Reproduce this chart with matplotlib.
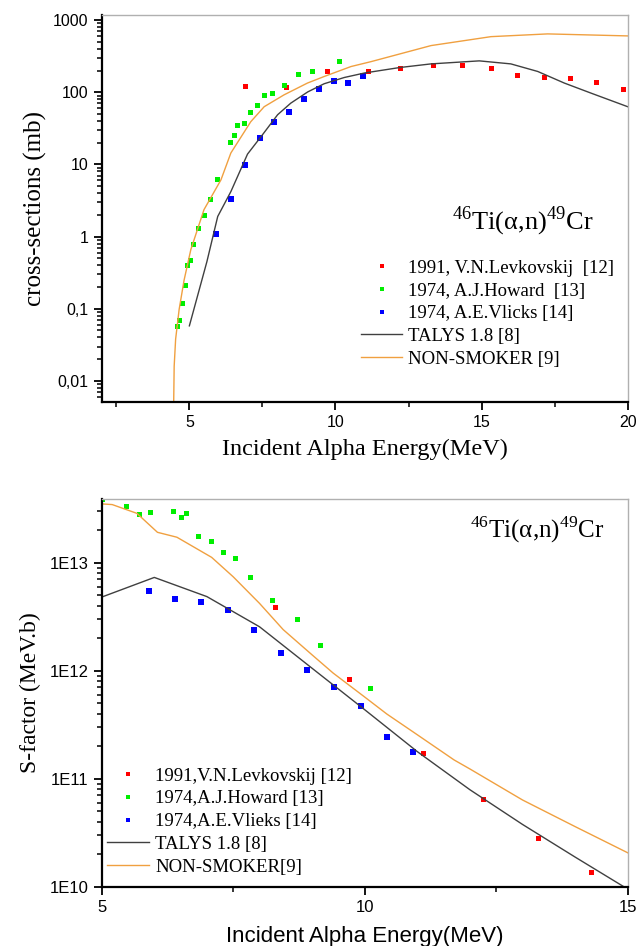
import matplotlib
matplotlib.use("Agg")
import matplotlib.pyplot as plt
from matplotlib.ticker import FixedLocator, LogLocator, NullFormatter, FixedFormatter

plt.rcParams['font.family'] = ['Liberation Serif', 'DejaVu Serif']
plt.rcParams['mathtext.fontset'] = 'custom'
plt.rcParams['mathtext.rm'] = 'Liberation Serif'

# --- cross sections (mb) ---
lev_e_cs = [6.91, 8.31, 9.72, 11.12, 12.21, 13.32, 14.33, 15.32, 16.22, 17.12, 18.03, 18.93, 19.83]
lev_cs = [121, 120, 196, 200, 215, 237, 242, 215, 176, 165, 158, 139, 110]

how_e_cs = [4.56, 4.65, 4.74, 4.85, 4.92, 5.01, 5.14, 5.28, 5.49, 5.71, 5.93, 6.38, 6.52,
            6.62, 6.87, 7.09, 7.33, 7.57, 7.82, 8.24, 8.73, 9.18, 10.13]
how_cs = [0.057, 0.070, 0.122, 0.215, 0.40, 0.48, 0.80, 1.33, 1.97, 3.3, 6.3, 20.6, 25.2,
          35, 36.9, 53, 67.6, 92, 99, 126, 180, 198, 269]

vl_e_cs = [5.90, 6.41, 6.91, 7.42, 7.91, 8.41, 8.92, 9.43, 9.95, 10.43, 10.95]
vl_cs = [1.07, 3.28, 9.8, 22.9, 38.6, 54, 80, 112, 144, 135, 169]

talys_e_cs = [5.0, 5.6, 5.97, 6.42, 6.99, 7.5, 8.02, 8.47, 9.05, 9.61, 10.3, 11.0, 12.2,
              13.27, 14.92, 16.0, 16.92, 17.83, 18.75, 20.0]
talys_cs = [0.058, 0.45, 1.9, 4.2, 13.9, 25.7, 48.8, 70.6, 101, 131, 160, 185, 220,
            247, 272, 247, 194, 134, 97, 63]

ns_e_cs = [4.46, 4.48, 4.53, 4.65, 4.82, 5.05, 5.5, 6.08, 6.42, 7.1, 7.56, 8.24, 9.04,
           9.61, 10.53, 11.21, 13.27, 15.32, 17.26, 20.0]
ns_cs = [0.004, 0.016, 0.038, 0.098, 0.25, 0.66, 2.36, 6.1, 14.4, 39, 63, 92, 134,
         165, 227, 265, 443, 589, 643, 603]

# --- S-factor (MeV.b) ---
lev_e_s = [8.29, 9.70, 11.10, 12.24, 13.29, 14.30]
lev_s = [3.89e12, 8.4e11, 1.72e11, 6.44e10, 2.82e10, 1.38e10]

how_e_s = [5.0, 5.46, 5.70, 5.92, 6.36, 6.50, 6.61, 6.84, 7.08, 7.31, 7.54, 7.81, 8.23,
           8.71, 9.15, 10.10]
how_s = [3.86e13, 3.33e13, 2.84e13, 2.93e13, 3.01e13, 2.65e13, 2.90e13, 1.78e13, 1.59e13,
         1.26e13, 1.10e13, 7.3e12, 4.54e12, 2.99e12, 1.72e12, 6.97e11]

vl_e_s = [5.89, 6.39, 6.89, 7.40, 7.90, 8.40, 8.91, 9.42, 9.92, 10.42, 10.92]
vl_s = [5.47e12, 4.61e12, 4.33e12, 3.62e12, 2.40e12, 1.46e12, 1.02e12, 7.0e11, 4.71e11,
        2.45e11, 1.76e11]

talys_e_s = [5.0, 6.0, 7.0, 8.0, 8.96, 10.0, 11.0, 12.0, 13.0, 14.0, 15.0]
talys_s = [4.8e12, 7.3e12, 4.85e12, 2.55e12, 1.09e12, 4.35e11, 1.78e11, 7.9e10, 3.77e10,
           1.88e10, 9.5e9]

ns_e_s = [5.0, 5.2, 5.67, 6.06, 6.43, 7.09, 7.5, 8.0, 8.45, 9.0, 9.4, 10.0, 10.42, 11.0,
          11.7, 12.0, 13.0, 14.0, 15.0]
ns_s = [3.5e13, 3.45e13, 2.86e13, 1.91e13, 1.72e13, 1.12e13, 7.4e12, 4.2e12, 2.4e12,
        1.4e12, 9.5e11, 5.7e11, 3.97e11, 2.55e11, 1.49e11, 1.23e11, 6.35e10, 3.6e10, 2.06e10]

labels_cs = ['1991, V.N.Levkovskij  [12]', '1974, A.J.Howard  [13]', '1974, A.E.Vlicks [14]',
             'TALYS 1.8 [8]', 'NON-SMOKER [9]']
labels_s = ['1991,V.N.Levkovskij [12]', '1974,A.J.Howard [13]', '1974,A.E.Vlieks [14]',
            'TALYS 1.8 [8]', 'NON-SMOKER[9]']

RED, GREEN, BLUE = '#ff0000', '#00ee00', '#0000ff'
TAL, NS = '#404040', '#f0a040'
SANS = 'Liberation Sans'
reaction = r'$^{46}$Ti(α,n)$^{49}$Cr'

fig = plt.figure(figsize=(6.38, 9.46), dpi=100)
ax1 = fig.add_axes([0.1594, 0.575, 0.8245, 0.409])
ax2 = fig.add_axes([0.1594, 0.0627, 0.8245, 0.410])


def style_axes(ax, tick_size):
    for s in ('left', 'bottom'):
        ax.spines[s].set_linewidth(1.6)
        ax.spines[s].set_color('black')
    for s in ('top', 'right'):
        ax.spines[s].set_linewidth(1.0)
        ax.spines[s].set_color('#b0b0b0')
    ax.tick_params(which='major', direction='out', length=6, width=1.3,
                   top=False, right=False, labelsize=tick_size)
    ax.tick_params(which='minor', direction='out', length=3.5, width=1.1,
                   top=False, right=False)
    for lab in ax.get_xticklabels() + ax.get_yticklabels():
        lab.set_family(SANS)


def draw(ax, data, labels):
    (le, lv), (he, hv), (ve, vv), (te, tv), (ne, nv) = data
    h1, = ax.plot(le, lv, 's', color=RED, ms=3.6, mew=0, label=labels[0])
    h2, = ax.plot(he, hv, 's', color=GREEN, ms=3.6, mew=0, label=labels[1])
    h3, = ax.plot(ve, vv, 's', color=BLUE, ms=3.8, mew=0, label=labels[2])
    h4, = ax.plot(te, tv, '-', color=TAL, lw=1.0, label=labels[3])
    h5, = ax.plot(ne, nv, '-', color=NS, lw=1.0, label=labels[4])
    return [h1, h2, h3, h4, h5]


# ---- top: cross sections ----
hs = draw(ax1, [(lev_e_cs, lev_cs), (how_e_cs, how_cs), (vl_e_cs, vl_cs),
                (talys_e_cs, talys_cs), (ns_e_cs, ns_cs)], labels_cs)
ax1.set_yscale('log')
ax1.set_xlim(2, 20)
ax1.set_ylim(0.0051, 1170)
ax1.xaxis.set_major_locator(FixedLocator([5, 10, 15, 20]))
ax1.xaxis.set_minor_locator(FixedLocator([2.5, 7.5, 12.5, 17.5]))
ax1.yaxis.set_major_locator(FixedLocator([0.01, 0.1, 1, 10, 100, 1000]))
ax1.yaxis.set_major_formatter(FixedFormatter(['0,01', '0,1', '1', '10', '100', '1000']))
ax1.yaxis.set_minor_locator(LogLocator(base=10, subs=range(2, 10), numticks=20))
ax1.yaxis.set_minor_formatter(NullFormatter())
style_axes(ax1, 11.5)
ax1.set_xlabel('Incident Alpha Energy(MeV)', fontsize=17.5, labelpad=6)
ax1.set_ylabel('cross-sections (mb)', fontsize=18, labelpad=4)
ax1.text(0.935, 0.468, reaction, transform=ax1.transAxes, fontsize=19,
         ha='right', va='center')
leg1 = ax1.legend(handles=hs, loc='upper left', bbox_to_anchor=(0.493, 0.368),
                  frameon=False, fontsize=13.5, borderpad=0, borderaxespad=0,
                  handlelength=2.2, handletextpad=0.33, labelspacing=0.3,
                  markerscale=0.9)

# ---- bottom: S-factor ----
hs = draw(ax2, [(lev_e_s, lev_s), (how_e_s, how_s), (vl_e_s, vl_s),
                (talys_e_s, talys_s), (ns_e_s, ns_s)], labels_s)
ax2.set_yscale('log')
ax2.set_xlim(5, 15)
ax2.set_ylim(1e10, 3.9e13)
ax2.xaxis.set_major_locator(FixedLocator([5, 10, 15]))
ax2.xaxis.set_minor_locator(FixedLocator([7.5, 12.5]))
ax2.yaxis.set_major_locator(FixedLocator([1e10, 1e11, 1e12, 1e13]))
ax2.yaxis.set_major_formatter(FixedFormatter(['1E10', '1E11', '1E12', '1E13']))
ax2.yaxis.set_minor_locator(LogLocator(base=10, subs=range(2, 10), numticks=20))
ax2.yaxis.set_minor_formatter(NullFormatter())
style_axes(ax2, 12)
ax2.set_xlabel('Incident Alpha Energy(MeV)', fontsize=16, family=SANS, labelpad=8)
ax2.set_ylabel('S-factor (MeV.b)', fontsize=17, labelpad=6)
ax2.text(0.955, 0.92, reaction, transform=ax2.transAxes, fontsize=18,
         ha='right', va='center')
leg2 = ax2.legend(handles=hs, loc='upper left', bbox_to_anchor=(0.0095, 0.307),
                  frameon=False, fontsize=13.5, borderpad=0, borderaxespad=0,
                  handlelength=2.25, handletextpad=0.33, labelspacing=0.3,
                  markerscale=0.9)

fig.savefig('out.png', dpi=100)
